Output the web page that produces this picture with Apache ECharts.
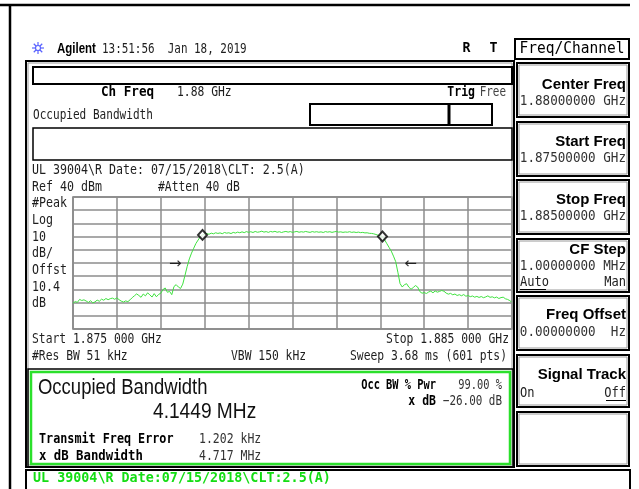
<!DOCTYPE html>
<html><head><meta charset="utf-8">
<script src="https://cdn.jsdelivr.net/npm/echarts@6/dist/echarts.min.js"></script>
<style>html,body{margin:0;padding:0;background:#fff}#c{width:639px;height:489px}</style>
</head><body><div id="c"></div>
<script>
// ---- data ----
const startMHz = 1875, stopMHz = 1885, traceStep = 0.05;
const refLevel = 40, bottomLevel = -60, dbPerDiv = 10;
// trace levels (dBm), one every 0.05 MHz from 1875.00 to 1885.00 MHz
const traceLevel = [
 -40.5,-39.2,-39.8,-37.6,-38.4,-37.9,-38.8,-39.9,-38.6,-40.2,-39.5,-38.1,-39.0,-37.4,-38.2,-36.9,-37.8,-37.0,-36.6,-37.5,
 -36.4,-37.8,-38.9,-39.6,-38.7,-39.3,-37.9,-36.2,-34.8,-33.4,-34.6,-36.0,-33.5,-34.9,-32.6,-34.1,-35.8,-33.2,-35.6,-33.8,
 -32.9,-30.1,-28.9,-32.2,-31.5,-34.0,-27.8,-26.4,-28.2,-29.3,-26.0,-19.5,-12.8,-6.9,-2.5,1.2,4.8,7.4,9.9,11.3,
 11.9,12.2,11.8,12.6,12.1,12.9,12.4,12.8,12.2,13.1,12.6,12.9,12.3,13.2,12.7,13.4,12.9,13.6,13.0,13.8,
 13.2,13.7,13.1,13.9,13.3,13.6,14.1,13.4,13.8,13.2,13.9,13.5,14.0,13.3,13.7,13.1,13.6,13.9,13.4,13.8,
 13.2,13.6,13.9,13.3,13.7,13.4,13.9,13.5,13.2,13.8,13.4,13.7,13.3,13.6,13.1,13.8,13.4,13.7,13.2,13.6,
 13.9,13.4,13.6,13.2,13.5,13.3,13.7,13.2,13.5,13.1,13.4,13.0,13.2,12.8,12.9,12.5,12.4,12.1,11.6,11.0,
 10.6,10.0,7.5,4.6,1.8,-1.0,-4.8,-8.9,-17.0,-25.6,-28.2,-26.4,-25.7,-28.3,-29.9,-28.6,-27.1,-28.2,-31.6,-32.9,
 -32.4,-33.1,-32.0,-31.3,-32.6,-31.2,-32.1,-31.5,-30.8,-31.4,-32.8,-33.6,-33.0,-34.1,-33.5,-34.6,-34.0,-34.8,-33.9,-35.2,
 -34.6,-35.5,-35.0,-35.9,-35.3,-36.1,-35.4,-36.3,-35.7,-34.9,-36.0,-35.6,-36.4,-35.8,-36.9,-36.2,-35.9,-37.1,-37.6,-38.5,-39.8
];
const markerFreq = [1877.95, 1882.05];
const markerLevel = [11.3, 10.0];
const arrowFreq = [1877.33, 1882.69];
const arrowLevel = [-10.6, -10.6];
const arrowGlyph = ['\u2192', '\u2190'];

// ---- build ----
const traceData = traceLevel.map((v, i) => [startMHz + i * traceStep, v]);
const markerData = markerFreq.map((f, i) => [f, markerLevel[i]]);
const arrowData = arrowFreq.map((f, i) => [f, arrowLevel[i]]);

const MONO = '"DejaVu Sans Mono","Liberation Mono",monospace';
const SANS = '"Liberation Sans","DejaVu Sans",sans-serif';
function T(text, x, y, o) {
  o = o || {};
  return { type: 'text', x: x, y: y, scaleX: (o.sx != null ? o.sx : 0.81), z: 20,
    style: { text: text, fontFamily: o.ff || MONO, fontSize: o.fs || 14, fontWeight: o.fw || 'normal',
      fill: o.c || '#1e1e1e', align: o.a || 'left', verticalAlign: 'middle' } };
}
function R(x, y, w, h, o) {
  o = o || {};
  return { type: 'rect', z: 10, shape: { x: x, y: y, width: w, height: h },
    style: { fill: o.fill || 'none', stroke: o.s || '#000', lineWidth: o.lw || 2 } };
}
function L(x1, y1, x2, y2, o) {
  o = o || {};
  return { type: 'line', z: 10, shape: { x1: x1, y1: y1, x2: x2, y2: y2 },
    style: { stroke: o.s || '#000', lineWidth: o.lw || 2 } };
}
function DB(x, y, w, h) { // double box: black + gray inner
  return [R(x, y, w, h, { lw: 2 }), R(x + 2, y + 2, w - 4, h - 4, { s: '#9a9a9a', lw: 1 })];
}

const g = [];
// outer frame
g.push(L(0, 5, 630, 5, { lw: 2.5 }));
g.push(L(10, 4, 10, 489, { lw: 2.5 }));
// Agilent icon
const icx = 38, icy = 48;
for (let k = 0; k < 4; k++) {
  const a = k * Math.PI / 4;
  g.push(L(icx - 6 * Math.cos(a), icy - 6 * Math.sin(a), icx + 6 * Math.cos(a), icy + 6 * Math.sin(a), { s: '#5a63ff', lw: 1.2 }));
}
g.push({ type: 'circle', z: 11, shape: { cx: icx, cy: icy, r: 2.5 }, style: { fill: '#fff', stroke: '#5a63ff', lineWidth: 1.2 } });
g.push(T('Agilent', 57, 49, { ff: SANS, fw: 'bold', fs: 14, sx: 0.82, c: '#000' }));
g.push(T('13:51:56  Jan 18, 2019', 102, 49, { sx: 0.78 }));
g.push(T('R', 466.5, 48, { fw: 'bold', a: 'center', sx: 0.95, c: '#000' }));
g.push(T('T', 493.5, 48, { fw: 'bold', a: 'center', sx: 0.95, c: '#000' }));

// left panel
g.push(...DB(26, 61, 488, 406));
g.push(R(33, 67, 479, 17, { lw: 2 }));
g.push(T('Ch Freq', 101, 92, { fw: 'bold', sx: 0.9, c: '#000' }));
g.push(T('1.88 GHz', 177, 92));
g.push(T('Trig', 475, 92, { fw: 'bold', a: 'right', sx: 0.82, c: '#000' }));
g.push(T('Free', 506, 92, { a: 'right', sx: 0.78, c: '#444' }));
g.push(T('Occupied Bandwidth', 33, 115, { sx: 0.79 }));
g.push(R(310, 104, 182, 21, { lw: 2 }));
g.push(L(449, 104, 449, 125, { lw: 3 }));
g.push(R(33, 128, 479, 32, { lw: 1.5 }));
g.push(T('UL 39004\\R Date: 07/15/2018\\CLT: 2.5(A)', 32, 170, { sx: 0.83 }));
g.push(T('Ref 40 dBm', 32, 187, { sx: 0.83 }));
g.push(T('#Atten 40 dB', 158, 187, { sx: 0.81 }));
const sideLab = ['#Peak', 'Log', '10', 'dB/', 'Offst', '10.4', 'dB'];
const sideY = [203, 220, 237, 253.5, 270.5, 287, 303];
sideLab.forEach((s, i) => g.push(T(s, 32, sideY[i], { sx: 0.83 })));
g.push(T('Start 1.875 000 GHz', 32, 339, { sx: 0.81 }));
g.push(T('Stop 1.885 000 GHz', 509, 339, { a: 'right', sx: 0.81 }));
g.push(T('#Res BW 51 kHz', 32, 356, { sx: 0.81 }));
g.push(T('VBW 150 kHz', 231, 356, { sx: 0.81 }));
g.push(T('Sweep 3.68 ms (601 pts)', 507, 356, { a: 'right', sx: 0.81 }));

// green result box
g.push(R(28, 369, 485, 98, { lw: 1.5 }));
g.push(R(31, 372, 479, 92, { s: '#2be02b', lw: 2.5 }));
g.push(T('Occupied Bandwidth', 38, 388, { ff: SANS, fs: 22, sx: 0.84, c: '#111' }));
g.push(T('4.1449 MHz', 153, 412, { ff: SANS, fs: 22, sx: 0.87, c: '#111' }));
g.push(T('Transmit Freq Error', 39, 439, { fw: 'bold', sx: 0.84, c: '#000' }));
g.push(T('1.202 kHz', 199, 439, { sx: 0.82, c: '#333' }));
g.push(T('x dB Bandwidth', 39, 456, { fw: 'bold', sx: 0.88, c: '#000' }));
g.push(T('4.717 MHz', 199, 456, { sx: 0.82, c: '#333' }));
g.push(T('Occ BW % Pwr', 436, 385, { fw: 'bold', a: 'right', sx: 0.74, c: '#000' }));
g.push(T('99.00 %', 502, 385, { a: 'right', sx: 0.74, c: '#333' }));
g.push(T('x dB', 436, 401.5, { fw: 'bold', a: 'right', sx: 0.82, c: '#000' }));
g.push(T('\u221226.00 dB', 502, 401.5, { a: 'right', sx: 0.78, c: '#333' }));

// bottom status line
g.push(R(26, 470, 604, 24, { lw: 2 }));
g.push(T('UL 39004\\R Date:07/15/2018\\CLT:2.5(A)', 33, 478, { fw: 'bold', sx: 0.955, c: '#14dd14' }));

// right softkey panel
g.push(R(515, 39, 114, 20, { lw: 2 }));
g.push(T('Freq/Channel', 572, 49.5, { fs: 15, sx: 0.97, a: 'center', c: '#000' }));
const keyTop = [63, 122, 180, 239, 296, 355, 412];
const keyBot = [117, 176, 234, 292, 350, 407, 466];
keyTop.forEach((t, i) => g.push(...DB(517, t, 112, keyBot[i] - t)));
const keyTitle = ['Center Freq', 'Start Freq', 'Stop Freq', 'CF Step', 'Freq Offset', 'Signal Track'];
const keyTitleY = [85, 142, 199.5, 250, 315, 375];
keyTitle.forEach((s, i) => g.push(T(s, 626, keyTitleY[i], { ff: SANS, fw: 'bold', fs: 15, sx: 1, a: 'right', c: '#000' })));
const keyValue = ['1.88000000 GHz', '1.87500000 GHz', '1.88500000 GHz', '1.00000000 MHz', '0.00000000  Hz'];
const keyValueY = [101, 158, 216.5, 266, 332];
keyValue.forEach((s, i) => g.push(T(s, 626, keyValueY[i], { a: 'right', sx: 0.9, c: '#333' })));
g.push(T('Auto', 520, 282, { sx: 0.86, c: '#222' }));
g.push(L(520, 289.5, 546, 289.5, { lw: 1 }));
g.push(T('Man', 626, 282, { a: 'right', sx: 0.86, c: '#222' }));
g.push(T('On', 520, 393, { sx: 0.86, c: '#222' }));
g.push(T('Off', 626, 393, { a: 'right', sx: 0.86, c: '#222' }));
g.push(L(606, 400.5, 626, 400.5, { lw: 1 }));

const gridColor = '#8c8c8c';
const option = {
  animation: false,
  backgroundColor: '#fff',
  grid: { left: 73, top: 197, width: 439, height: 132, show: true, borderColor: '#777', borderWidth: 1.5, backgroundColor: '#fff' },
  xAxis: { type: 'value', min: startMHz, max: stopMHz, interval: 1,
    axisLabel: { show: false }, axisTick: { show: false }, axisLine: { show: false },
    splitLine: { show: true, lineStyle: { color: gridColor, width: 1.5 } } },
  yAxis: { type: 'value', min: bottomLevel, max: refLevel, interval: dbPerDiv,
    axisLabel: { show: false }, axisTick: { show: false }, axisLine: { show: false },
    splitLine: { show: true, lineStyle: { color: gridColor, width: 1.5 } } },
  series: [
    { type: 'line', data: traceData, showSymbol: false, symbol: 'none', z: 3,
      lineStyle: { color: '#3fe23f', width: 1 } },
    { type: 'scatter', data: markerData, symbol: 'diamond', symbolSize: [9, 10], z: 5,
      itemStyle: { color: '#fff', borderColor: '#000', borderWidth: 2 } },
    { type: 'scatter', data: arrowData, symbolSize: 1, z: 5, itemStyle: { color: 'rgba(0,0,0,0)' },
      label: { show: true, position: 'inside', formatter: p => arrowGlyph[p.dataIndex],
        fontSize: 15, color: '#000', fontFamily: '"DejaVu Sans",sans-serif' } }
  ],
  graphic: { elements: g }
};
const chart = echarts.init(document.getElementById('c'), null, { renderer: 'canvas' });
chart.setOption(option);
</script></body></html>
